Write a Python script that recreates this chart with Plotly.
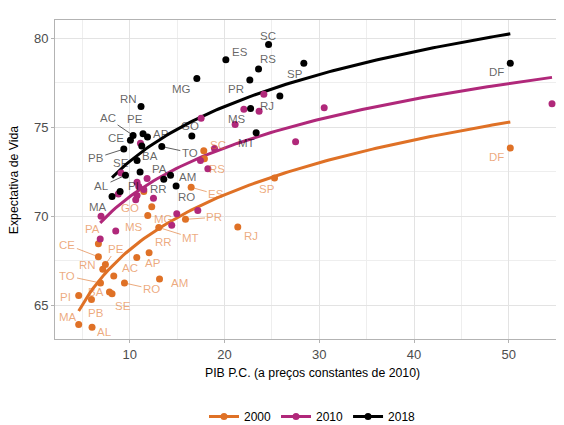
import numpy as np
import plotly.graph_objects as go

# ---------------- data ----------------
states = ["AC", "AL", "AP", "AM", "BA", "CE", "DF", "ES", "GO", "MA", "MT", "MS", "MG", "PA",
          "PB", "PR", "PE", "PI", "RJ", "RN", "RS", "RO", "RR", "SC", "SP", "SE", "TO"]

gdp_2000 = [8.31, 6.02, 10.74, 13.14, 7.86, 6.69, 50.16, 16.48, 11.48, 4.61, 13.06, 11.90, 12.32, 6.69,
            5.96, 15.88, 7.43, 4.61, 21.40, 7.15, 17.88, 9.44, 12.04, 17.81, 25.28, 8.13, 6.91]
life_2000 = [66.64, 63.75, 67.67, 66.47, 65.74, 67.71, 73.83, 71.62, 71.38, 63.90, 69.36, 70.04, 70.53, 68.44,
             65.31, 69.82, 67.28, 65.53, 69.39, 67.01, 73.22, 66.24, 67.94, 73.68, 72.15, 65.63, 66.24]

gdp_2010 = [10.77, 8.52, 11.83, 17.18, 10.95, 9.08, 54.56, 21.12, 17.46, 6.88, 18.24, 18.94, 17.53, 10.63,
            8.79, 23.65, 11.48, 6.97, 27.50, 11.13, 22.04, 14.96, 14.43, 24.15, 30.52, 10.77, 12.50]
life_2010 = [71.16, 69.16, 72.12, 70.31, 71.66, 72.43, 76.32, 75.15, 73.13, 68.72, 72.67, 73.80, 75.50, 70.92,
             71.25, 75.90, 71.50, 69.99, 74.19, 74.10, 76.01, 70.13, 69.49, 76.86, 76.10, 71.91, 71.01]

gdp_2018 = [10.35, 9.55, 11.87, 14.30, 11.27, 10.07, 50.16, 20.14, 16.55, 8.13, 23.34, 22.75, 17.08, 11.09,
            9.37, 22.67, 11.40, 8.98, 25.84, 11.19, 23.59, 14.89, 13.59, 24.65, 28.37, 10.77, 13.38]
life_2018 = [74.54, 72.30, 74.45, 72.30, 73.95, 74.27, 78.60, 78.79, 74.50, 71.10, 74.69, 76.05, 77.74, 72.48,
             73.77, 77.65, 74.63, 71.38, 76.75, 76.16, 78.27, 71.69, 72.08, 79.65, 78.60, 73.13, 73.91]

years = ["2000", "2010", "2018"]

# ---------------- style ----------------
colors = {"2000": "#DF7126", "2010": "#B0287A", "2018": "#000000"}
label_colors = {"2000": "rgba(223,113,38,0.6)", "2018": "rgba(0,0,0,0.62)"}
FONT = "Liberation Sans, Arial, sans-serif"

# label offsets in pixels (dx, dy) relative to the point, and which ones get leader lines
offsets_2000 = {"PA": (-6, -15), "CE": (-31, -12), "PE": (11, -16), "RN": (-15, -4), "AC": (16, -8),
                "TO": (-33, -7), "RO": (27, 6), "AP": (16, 5), "RR": (14, -11), "AM": (20, 4),
                "PI": (-13, 1), "PB": (5, 13), "BA": (-13, 0), "SE": (11, 12), "MA": (-11, -8),
                "AL": (12, 5), "GO": (-14, 16), "MG": (12, 12), "MS": (-14, 12), "ES": (25, 7),
                "PR": (29, -2), "MT": (32, 10), "SC": (14, -6), "RS": (13, 10), "RJ": (13, 9),
                "SP": (-8, 11), "DF": (-14, 9)}
lines_2000 = {"CE", "PE", "TO", "RO", "ES", "PR", "MT"}

offsets_2018 = {"MA": (-14, 10), "PI": (13, -6), "AL": (-24, 11), "PB": (-28, 9), "CE": (-14, -2),
                "AC": (-25, -17), "SE": (-16, 3), "PA": (19, -3), "RN": (-13, -8), "BA": (8, 10),
                "PE": (-8, -15), "AP": (14, -3), "TO": (28, 6), "RR": (-5, 10), "AM": (17, 2),
                "RO": (10, 11), "GO": (-2, -10), "MG": (-15, 10), "ES": (14, -8), "PR": (-14, 9),
                "MS": (-14, 10), "MT": (-10, 10), "RS": (9, -10), "SC": (-1, -9), "RJ": (-13, 10),
                "SP": (-9, 11), "DF": (-14, 9)}
lines_2018 = {"AC", "PB", "TO", "AL"}

data = {"2000": (gdp_2000, life_2000), "2010": (gdp_2010, life_2010), "2018": (gdp_2018, life_2018)}

fig = go.Figure()

# fitted curves (lm, y ~ log(x)) like geom_smooth
for yr in years:
    gx, ly = np.array(data[yr][0]), np.array(data[yr][1])
    b, a = np.polyfit(np.log(gx), ly, 1)
    xs = np.linspace(gx.min(), gx.max(), 120)
    fig.add_trace(go.Scatter(x=xs, y=a + b * np.log(xs), mode="lines",
                             line=dict(color=colors[yr], width=3),
                             showlegend=False, hoverinfo="skip"))

# points
for yr in years:
    gx, ly = data[yr]
    fig.add_trace(go.Scatter(x=gx, y=ly, mode="markers", text=states,
                             marker=dict(color=colors[yr], size=7),
                             showlegend=False, name=yr))

# legend entries
for yr in years:
    fig.add_trace(go.Scatter(x=[None], y=[None], mode="lines+markers", name=yr,
                             line=dict(color=colors[yr], width=3),
                             marker=dict(color=colors[yr], size=7)))

annotations = []
for yr, offs, lns in (("2000", offsets_2000, lines_2000), ("2018", offsets_2018, lines_2018)):
    gx, ly = data[yr]
    for s, x, y in zip(states, gx, ly):
        dx, dy = offs[s]
        annotations.append(dict(
            x=x, y=y, xref="x", yref="y", text=s, showarrow=True, ax=dx, ay=dy,
            arrowhead=0, arrowwidth=1, standoff=3,
            arrowcolor=label_colors[yr] if s in lns else "rgba(0,0,0,0)",
            font=dict(family=FONT, size=11.5, color=label_colors[yr])))

annotations.append(dict(text="PIB P.C. (a preços constantes de 2010)", x=0.5, y=-0.108,
                        xref="paper", yref="paper", showarrow=False, xanchor="center", yanchor="middle",
                        font=dict(family=FONT, size=12.3, color="#000000")))
annotations.append(dict(text="Expectativa de Vida", x=-0.068 - 0.012, y=0.5, textangle=-90,
                        xref="paper", yref="paper", showarrow=False, xanchor="center", yanchor="middle",
                        font=dict(family=FONT, size=12.3, color="#000000")))

axis_common = dict(showline=True, mirror=True, linecolor="#B3B3B3", linewidth=1,
                   ticks="outside", ticklen=3, tickcolor="#B3B3B3",
                   gridcolor="#E3E3E3", gridwidth=1, zeroline=False,
                   tickfont=dict(family=FONT, size=13, color="#4D4D4D"))

fig.update_layout(
    width=564, height=425,
    margin=dict(l=47, r=2, t=12, b=88),
    paper_bgcolor="white", plot_bgcolor="white",
    xaxis=dict(range=[2.11, 56.46], tickvals=[10, 20, 30, 40, 50],
               minor=dict(tickvals=[5, 15, 25, 35, 45, 55], showgrid=True, gridcolor="#EEEEEE",
                          gridwidth=0.6, ticklen=0), **axis_common),
    yaxis=dict(range=[63.09, 81.03], tickvals=[65, 70, 75, 80],
               minor=dict(tickvals=[62.5, 67.5, 72.5, 77.5], showgrid=True, gridcolor="#EEEEEE",
                          gridwidth=0.6, ticklen=0), **axis_common),
    legend=dict(orientation="h", x=0.5, xanchor="center", y=-0.243, yanchor="middle",
                font=dict(family=FONT, size=12, color="#000000"), itemwidth=30),
    annotations=annotations,
    font=dict(family=FONT),
)

fig.write_html("out.html")
